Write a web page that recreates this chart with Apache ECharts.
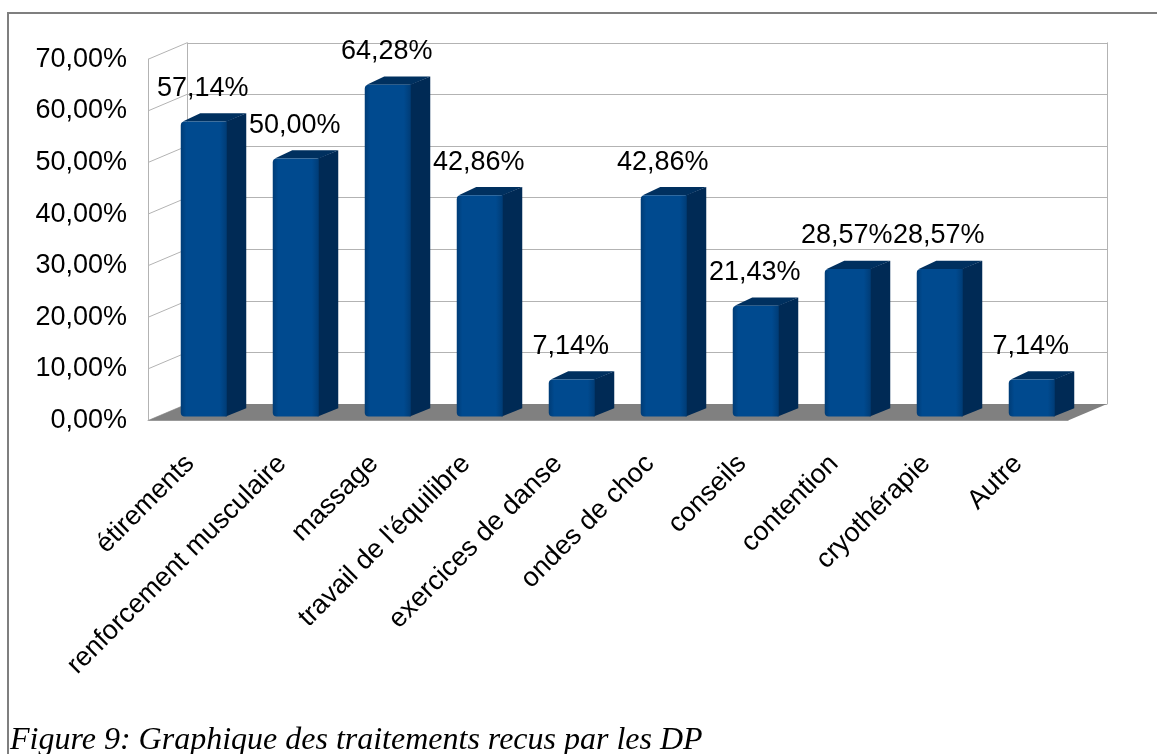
<!DOCTYPE html>
<html>
<head>
<meta charset="utf-8">
<script src="https://cdn.jsdelivr.net/npm/echarts@6/dist/echarts.min.js"></script>
<style>
  html, body { margin: 0; padding: 0; background: #fff; }
  #main { width: 1157px; height: 754px; }
</style>
</head>
<body>
<div id="main"></div>
<script>
// data
const categories = ['étirements', 'renforcement musculaire', 'massage', "travail de l'équilibre",
  'exercices de danse', 'ondes de choc', 'conseils', 'contention', 'cryothérapie', 'Autre'];
const values = [57.14, 50.00, 64.28, 42.86, 7.14, 42.86, 21.43, 28.57, 28.57, 7.14];
const yTicks = [0, 10, 20, 30, 40, 50, 60, 70];
const caption = 'Figure 9: Graphique des traitements recus par les DP';

window.addEventListener('load', function () {
  var chart = echarts.init(document.getElementById('main'));

  // depth of the fake 3d box (front plane -> back wall)
  const DX = 39, DY = -16.5;
  const front = { left: 148, top: 59.3, width: 920, height: 361.2 };
  const wallColor = '#b3b3b3';
  const font = 'Liberation Sans';
  const fs = 27;

  const pct = v => v.toFixed(2).replace('.', ',') + '%';

  function halfBand(api) { return api.size([1, 0])[0] / 2; }

  chart.setOption({
    animation: false,
    title: {
      text: caption, left: 10, top: 725, padding: 0,
      textStyle: { fontFamily: 'Liberation Serif', fontStyle: 'italic', fontWeight: 'normal', fontSize: 32, color: '#000' }
    },
    graphic: [{
      type: 'polyline', silent: true,
      shape: { points: [[8, 754], [8, 13], [1157, 13]] },
      style: { stroke: '#7f7f7f', lineWidth: 2, fill: null }
    }],
    grid: [
      { left: front.left, top: front.top, width: front.width, height: front.height },
      { left: front.left + DX, top: front.top + DY, width: front.width, height: front.height },
      { left: front.left - 4, top: front.top, width: front.width, height: front.height }
    ],
    xAxis: [
      { type: 'category', gridIndex: 0, data: categories,
        axisLine: { show: true, lineStyle: { color: wallColor } }, axisTick: { show: false }, axisLabel: { show: false } },
      { type: 'category', gridIndex: 1, data: categories, show: false },
      { type: 'category', gridIndex: 2, data: categories,
        axisLine: { show: false }, axisTick: { show: false },
        axisLabel: { interval: 0, rotate: 45, margin: 39, fontSize: fs, fontFamily: font, color: '#000' } }
    ],
    yAxis: [
      { type: 'value', gridIndex: 0, min: 0, max: 70, interval: 10,
        axisLine: { show: true, lineStyle: { color: wallColor } }, axisTick: { show: false },
        splitLine: { show: false },
        axisLabel: { margin: 21, fontSize: fs, fontFamily: font, color: '#000', formatter: pct } },
      { type: 'value', gridIndex: 1, min: 0, max: 70, interval: 10,
        axisLine: { show: true, lineStyle: { color: wallColor } }, axisTick: { show: false },
        axisLabel: { show: false },
        splitLine: { show: true, lineStyle: { color: wallColor, width: 1 } } },
      { type: 'value', gridIndex: 2, min: 0, max: 70, show: false },
      { type: 'value', gridIndex: 1, min: 0, max: 70, interval: 10, position: 'right',
        axisLine: { show: true, lineStyle: { color: wallColor } }, axisTick: { show: false },
        axisLabel: { show: false }, splitLine: { show: false } }
    ],
    series: [
      // left side wall grid lines
      {
        type: 'custom', xAxisIndex: 0, yAxisIndex: 0, z: 1, silent: true,
        data: yTicks.map(v => [0, v]),
        renderItem: function (params, api) {
          var p = api.coord([0, api.value(1)]);
          var x0 = p[0] - halfBand(api);
          return { type: 'line', shape: { x1: x0, y1: p[1], x2: x0 + DX, y2: p[1] + DY },
            style: { stroke: wallColor, lineWidth: 1 } };
        }
      },
      // floor
      {
        type: 'custom', xAxisIndex: 0, yAxisIndex: 0, z: 2, silent: true,
        data: [[0, 0]],
        renderItem: function (params, api) {
          var h = halfBand(api);
          var a = api.coord([0, 0]), b = api.coord([categories.length - 1, 0]);
          var l = a[0] - h, r = b[0] + h, y = a[1];
          return { type: 'polygon',
            shape: { points: [[l, y], [r, y], [r + DX, y + DY], [l + DX, y + DY]] },
            style: { fill: '#808080' } };
        }
      },
      // bars
      {
        type: 'custom', xAxisIndex: 0, yAxisIndex: 0, z: 3,
        data: values.map((v, i) => [i, v]),
        renderItem: function (params, api) {
          var i = api.value(0), v = api.value(1);
          var h = halfBand(api);
          var bw = h;                       // bar width = half the band
          var c0 = api.coord([i, 0]), ct = api.coord([i, v]);
          var cx = c0[0] + DX * 0.25;
          var yb = c0[1] + DY * 0.25, yt = ct[1] + DY * 0.25;
          var x1 = cx - bw / 2, x2 = cx + bw / 2;
          var sx = DX * 0.5, sy = DY * 0.5;
          return {
            type: 'group',
            children: [
              { type: 'polygon',
                shape: { points: [[x2 - 1, yb], [x2 + sx, yb + sy], [x2 + sx, yt + sy], [x2 - 1, yt]] },
                style: { fill: '#002a55' } },
              { type: 'polygon',
                shape: { points: [[x1 + 2, yt], [x2, yt], [x2 + sx, yt + sy], [x1 + sx, yt + sy]] },
                style: { fill: '#00305f' } },
              { type: 'rect',
                shape: { x: x1, y: yt, width: bw, height: yb - yt, r: [4, 0, 0, 4] },
                style: { fill: new echarts.graphic.LinearGradient(0, 0, 1, 0, [
                  { offset: 0, color: '#003c76' }, { offset: 0.12, color: '#004a8f' },
                  { offset: 0.85, color: '#004a8f' }, { offset: 1, color: '#003c76' }]) } },
              { type: 'text',
                style: { text: pct(v), x: cx - 1, y: yt - 33, align: 'center', verticalAlign: 'middle',
                  fontSize: fs, fontFamily: font, fill: '#000' } }
            ]
          };
        }
      }
    ]
  });
});
</script>
</body>
</html>
